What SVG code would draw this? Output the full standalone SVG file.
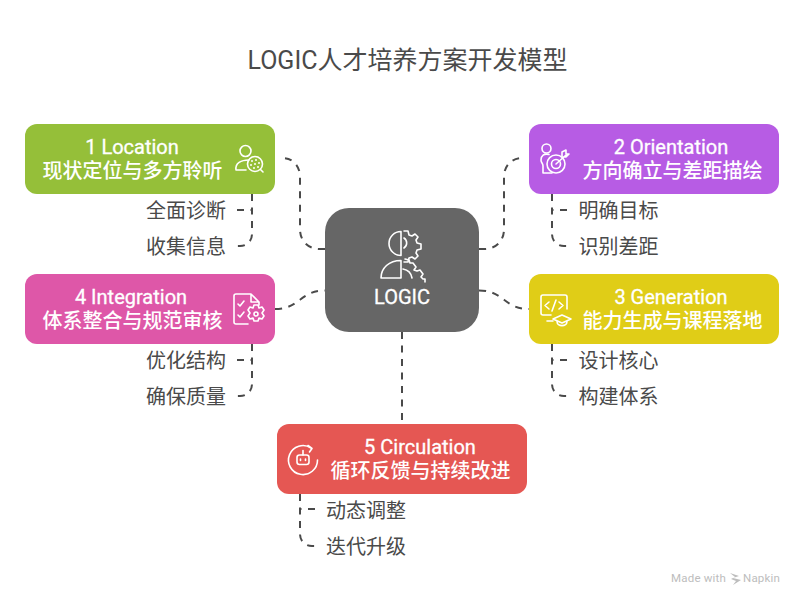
<svg xmlns="http://www.w3.org/2000/svg" width="804" height="606" viewBox="0 0 804 606">
<style>
text{font-family:Roboto,"Noto Sans CJK SC","Noto Sans",sans-serif}
.title{font-size:25px;fill:#4a4a4a;text-anchor:middle}
.head{font-size:20px;font-weight:500;fill:#fff;text-anchor:middle}
.lat{font-weight:400;stroke:#fff;stroke-width:.3px}
.sub{font-size:20px;fill:#4a4a4a}
.end{text-anchor:end}
.wm{font-size:11.5px;fill:#bdbdbd;letter-spacing:.2px}
.conn{fill:none;stroke:#4a4a4a;stroke-width:2;stroke-dasharray:7 6.500}
.ic{fill:none;stroke:#fff;stroke-width:1.600;stroke-linecap:round;stroke-linejoin:round}
</style>
<rect width="804" height="606" fill="#fff"/>
<text class="title" x="407.500" y="68.500">LOGIC人才培养方案开发模型</text>
<g id="connectors">
<path class="conn" d="M325 249H320C308 249 300 241 300 229V177C300 166 293 158 282 158"/>
<path class="conn" d="M479 249H484C496 249 504 241 504 229V177C504 166 511 158 523 158"/>
<path class="conn" d="M275 309C300 309 300 290.500 325 290.500"/>
<path class="conn" d="M479 290.500C504 290.500 504 309 529 309"/>
<path class="conn" d="M402 332V424"/>
<path class="conn" d="M252 194V234C252 241 247 246 240 246H233"/>
<path class="conn" d="M237 210H252"/>
<path class="conn" d="M252 344V384C252 391 247 396 240 396H233"/>
<path class="conn" d="M237 360H252"/>
<path class="conn" d="M552 194V234C552 241 557 246 564 246H571"/>
<path class="conn" d="M567 210H552"/>
<path class="conn" d="M552 344V384C552 391 557 396 564 396H571"/>
<path class="conn" d="M567 360H552"/>
<path class="conn" d="M300 494V534C300 541 305 546 312 546H319"/>
<path class="conn" d="M315 509H300"/>
</g>
<g id="node-center">
<rect x="325" y="208" width="154" height="124" rx="24" fill="#666"/>
<path class="ic" d="M401 231.500V255.500M401 231.500A12 12 0 0 0 401 255.500M401 260.500V278H381C381 268 389 260.500 401 260.500Z"/>
<path class="ic" d="M404 231h4l1 4 3 1 3-2 3 3-2 3 1 3 4 1v5l-4 1-1 3 2 3-3 3-3-2-3 1-1 4h-4M404 238a6 6 0 0 1 0 10"/>
<path class="ic" d="M405 259l4 1 1 3 3 0 3 4-2 3 3 1 3-1 3 4-2 3 2 2 2 0v3M403 269a11 11 0 0 1 9 9"/>
<text class="head lat" x="402" y="304">LOGIC</text>
</g>
<g id="node-1">
<rect x="25" y="124" width="250" height="70" rx="12" fill="#95bf39"/>
<text class="head lat" x="132" y="154">1 Location</text>
<text class="head" x="132.500" y="178">现状定位与多方聆听</text>
<circle class="ic" cx="245.500" cy="151" r="5.500"/>
<path class="ic" d="M236 170C235 163 241 160 249 160M236 170H246"/>
<circle class="ic" cx="255" cy="164" r="7.500"/>
<path class="ic" d="M260.500 169.500L263 172"/>
<g fill="#fff"><circle cx="252" cy="161" r="1"/><circle cx="256" cy="160" r="1"/><circle cx="259" cy="163" r="1"/><circle cx="255" cy="164" r="1"/><circle cx="251" cy="165" r="1"/><circle cx="254" cy="168" r="1"/><circle cx="258" cy="167" r="1"/></g>
</g>
<g id="node-2">
<rect x="529" y="124" width="250" height="70" rx="12" fill="#b75ce4"/>
<text class="head lat" x="671" y="154">2 Orientation</text>
<text class="head" x="672.500" y="178">方向确立与差距描绘</text>
<circle class="ic" cx="546.500" cy="148.500" r="4.500"/>
<path class="ic" d="M549 154.500C544 153 541 156 541 160C541 163 543 163 543 166V173H552"/>
<circle class="ic" cx="556" cy="164" r="9"/>
<circle class="ic" cx="556" cy="164" r="4.500"/>
<path class="ic" d="M556 164L566 155M562 156V152L566 150V154H569L566 157H563"/>
</g>
<g id="node-4">
<rect x="25" y="274" width="250" height="70" rx="12" fill="#de57a8"/>
<text class="head lat" x="131" y="304">4 Integration</text>
<text class="head" x="132.500" y="328">体系整合与规范审核</text>
<path class="ic" d="M248 324H236C235 324 234 323 234 322V296C234 295 235 294 236 294H251L259 302V305M251 294V302H259"/>
<path class="ic" d="M238 304L240 306L244 301M238 315L240 317L244 312"/>
<path class="ic" d="M254 305h4l1 3 3-1 2 3-2 3 2 3-2 3-3-1-1 3h-4l-1-3-3 1-2-3 2-3-2-3 2-3 3 1z"/>
<circle class="ic" cx="256" cy="314" r="2"/>
</g>
<g id="node-3">
<rect x="529" y="274" width="250" height="70" rx="12" fill="#e0cd17"/>
<text class="head lat" x="671" y="304">3 Generation</text>
<text class="head" x="672.500" y="328">能力生成与课程落地</text>
<path class="ic" d="M553 321H547M551 315H543C542 315 541 314 541 313V297C541 296 542 295 543 295H565C566 295 567 296 567 297V309"/>
<path class="ic" d="M549 302L545 305.500L549 309M559 302L563 305.500L559 309M556 300L552 311"/>
<path class="ic" d="M553 319L562 315L571 319L562 323ZM557 321.500C557 327 567 327 567 321.500"/>
</g>
<g id="node-5">
<rect x="277" y="424" width="250" height="70" rx="12" fill="#e55753"/>
<text class="head lat" x="420" y="454">5 Circulation</text>
<text class="head" x="420.500" y="478">循环反馈与持续改进</text>
<path class="ic" d="M311 448A14.500 14.500 0 1 0 317.500 460M308 445.500L312 448.500L309.500 452"/>
<rect class="ic" x="297" y="455" width="12" height="9.500" rx="2.500"/>
<path class="ic" d="M303 455V450.500M300.500 459V460.500M305.500 459V460.500"/>
</g>
<g id="sublabels">
<text class="sub end" x="226" y="218">全面诊断</text>
<text class="sub end" x="226" y="254">收集信息</text>
<text class="sub end" x="226" y="368">优化结构</text>
<text class="sub end" x="226" y="404">确保质量</text>
<text class="sub" x="578.500" y="218">明确目标</text>
<text class="sub" x="578.500" y="254">识别差距</text>
<text class="sub" x="578.500" y="368">设计核心</text>
<text class="sub" x="578.500" y="404">构建体系</text>
<text class="sub" x="326" y="518">动态调整</text>
<text class="sub" x="326" y="554">迭代升级</text>
</g>
<g id="watermark">
<text class="wm" x="671" y="582">Made with</text>
<path d="M730 573L739 576L733 578L741 580L733 585L736 581L731 579L735 577Z" fill="#bdbdbd"/>
<text class="wm" x="743" y="582">Napkin</text>
</g>
</svg>
